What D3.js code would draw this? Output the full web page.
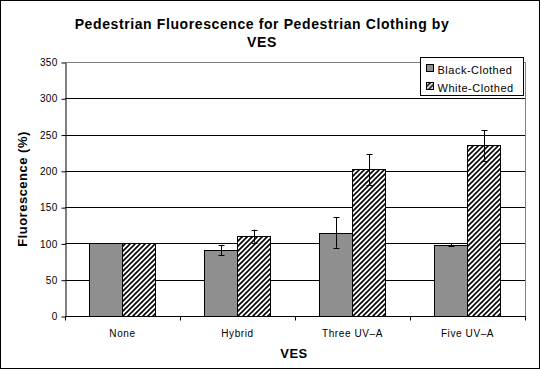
<!DOCTYPE html>
<html>
<head>
<meta charset="utf-8">
<script src="https://cdn.jsdelivr.net/npm/d3@7"></script>
<style>
  body { margin: 0; background: #fff; }
  svg { display: block; font-family: Arial, "Liberation Sans", sans-serif; }
</style>
</head>
<body>
<div id="chart"></div>
<script>
const categories = ['None', 'Hybrid', 'Three UV\u2013A', 'Five UV\u2013A'];
const seriesNames = ['Black-Clothed', 'White-Clothed'];
const blackValues = [100, 91, 115, 98];
const whiteValues = [100, 110, 202, 235];
const blackErrors = [0, 7, 21, 2];
const whiteErrors = [0, 9, 21, 21];
const yTicks = [0, 50, 100, 150, 200, 250, 300, 350];

const width = 540;
const height = 369;
const margin = { top: 62, right: 15, bottom: 53, left: 65 };

const svg = d3.select('#chart')
    .append('svg')
    .attr('width', width)
    .attr('height', height);

// hatch pattern for white-clothed bars
const defs = svg.append('defs');
const pat = defs.append('pattern')
    .attr('id', 'hatch')
    .attr('patternUnits', 'userSpaceOnUse')
    .attr('width', 5)
    .attr('height', 5);
pat.append('rect').attr('width', 5).attr('height', 5).attr('fill', '#fff');
pat.append('path')
    .attr('d', 'M-1,1 l2,-2 M0,5 l5,-5 M4,6 l2,-2')
    .attr('stroke', '#000')
    .attr('stroke-width', 1.6);

const fills = ['#8f8f8f', 'url(#hatch)'];

const x0 = d3.scaleBand()
    .domain(categories)
    .range([margin.left, width - margin.right])
    .paddingInner(0.426)
    .paddingOuter(0.213);

const x1 = d3.scaleBand()
    .domain(seriesNames)
    .range([0, x0.bandwidth()]);

const y = d3.scaleLinear()
    .domain([0, 350])
    .range([height - margin.bottom, margin.top]);

// outer border
svg.append('rect')
    .attr('x', 0.5).attr('y', 0.5)
    .attr('width', width - 1).attr('height', height - 1)
    .attr('fill', 'none').attr('stroke', '#000');

// gridlines
svg.append('g')
    .selectAll('line')
    .data(yTicks.filter(d => d > 0 && d < 350))
    .join('line')
    .attr('x1', margin.left).attr('x2', width - margin.right)
    .attr('y1', d => Math.round(y(d)) + 0.5).attr('y2', d => Math.round(y(d)) + 0.5)
    .attr('stroke', '#000');

// plot area border (gray top and right)
svg.append('path')
    .attr('d', `M${margin.left},${Math.round(y(350)) + 0.5}H${width - margin.right + 0.5}V${Math.round(y(0))}`)
    .attr('fill', 'none')
    .attr('stroke', '#808080');

const rows = categories.map((c, i) => ({
    cat: c,
    vals: [
        { s: seriesNames[0], v: blackValues[i], e: blackErrors[i], k: 0 },
        { s: seriesNames[1], v: whiteValues[i], e: whiteErrors[i], k: 1 }
    ]
}));

const groups = svg.append('g')
    .selectAll('g')
    .data(rows)
    .join('g')
    .attr('transform', d => `translate(${Math.round(x0(d.cat))},0)`);

groups.selectAll('rect')
    .data(d => d.vals)
    .join('rect')
    .attr('x', d => Math.round(x1(d.s)) + 0.5)
    .attr('y', d => Math.round(y(d.v)) + 0.5)
    .attr('width', Math.round(x1.bandwidth()))
    .attr('height', d => Math.round(y(0)) - Math.round(y(d.v)))
    .attr('fill', d => fills[d.k])
    .attr('stroke', '#000')
    .attr('stroke-width', 1);

// error bars
const eb = groups.selectAll('g.err')
    .data(d => d.vals.filter(v => v.e > 0))
    .join('g')
    .attr('class', 'err')
    .attr('stroke', '#000')
    .attr('stroke-width', 1);

const cx = d => Math.round(x1(d.s) + x1.bandwidth() / 2) + 0.5;
eb.append('line')
    .attr('x1', cx).attr('x2', cx)
    .attr('y1', d => y(d.v + d.e)).attr('y2', d => y(d.v - d.e));
eb.append('line')
    .attr('x1', d => cx(d) - 3).attr('x2', d => cx(d) + 3)
    .attr('y1', d => Math.round(y(d.v + d.e)) + 0.5).attr('y2', d => Math.round(y(d.v + d.e)) + 0.5);
eb.append('line')
    .attr('x1', d => cx(d) - 3).attr('x2', d => cx(d) + 3)
    .attr('y1', d => Math.round(y(d.v - d.e)) + 0.5).attr('y2', d => Math.round(y(d.v - d.e)) + 0.5);

// y axis
const yAxis = svg.append('g')
    .attr('transform', `translate(${margin.left + 0.5},0.5)`)
    .call(d3.axisLeft(y).tickValues(yTicks).tickSize(4).tickSizeOuter(0));
yAxis.select('.domain').attr('stroke', '#000');
yAxis.selectAll('.tick line').attr('stroke', '#000');
yAxis.selectAll('.tick text')
    .attr('font-size', 10)
    .attr('font-family', 'Arial, "Liberation Sans", sans-serif')
    .attr('letter-spacing', 0.3)
    .attr('fill', '#000')
    .attr('x', -8);

// x axis with ticks between categories
const baseY = Math.round(y(0)) + 0.5;
svg.append('line')
    .attr('x1', margin.left).attr('x2', width - margin.right + 1)
    .attr('y1', baseY).attr('y2', baseY)
    .attr('stroke', '#000');
const step = x0.step();
const tickXs = d3.range(categories.length + 1).map(i => Math.round(x0(categories[0]) - x0.paddingInner() * step / 2 + i * step) + 0.5);
svg.append('g')
    .selectAll('line')
    .data(tickXs)
    .join('line')
    .attr('x1', d => d).attr('x2', d => d)
    .attr('y1', baseY).attr('y2', baseY + 4)
    .attr('stroke', '#000');

svg.append('g')
    .selectAll('text')
    .data(categories)
    .join('text')
    .attr('x', d => x0(d) + x0.bandwidth() / 2)
    .attr('y', baseY + 20)
    .attr('text-anchor', 'middle')
    .attr('font-size', 10)
    .attr('letter-spacing', 0.6)
    .text(d => d);

// titles
svg.append('text')
    .attr('x', 262).attr('y', 29)
    .attr('text-anchor', 'middle')
    .attr('font-size', 14).attr('font-weight', 'bold')
    .attr('letter-spacing', 0.6)
    .text('Pedestrian Fluorescence for Pedestrian Clothing by');
svg.append('text')
    .attr('x', 262).attr('y', 47)
    .attr('text-anchor', 'middle')
    .attr('font-size', 14).attr('font-weight', 'bold')
    .attr('letter-spacing', 0.6)
    .text('VES');

svg.append('text')
    .attr('x', 294).attr('y', 358)
    .attr('text-anchor', 'middle')
    .attr('font-size', 13).attr('font-weight', 'bold')
    .attr('letter-spacing', 0.5)
    .text('VES');

svg.append('text')
    .attr('transform', 'translate(27,189) rotate(-90)')
    .attr('text-anchor', 'middle')
    .attr('font-size', 13).attr('font-weight', 'bold')
    .attr('letter-spacing', 0.5)
    .text('Fluorescence (%)');

// legend
const legend = svg.append('g').attr('transform', 'translate(420.5,57.5)');
legend.append('rect')
    .attr('width', 103).attr('height', 38)
    .attr('fill', '#fff').attr('stroke', '#000');
seriesNames.forEach((s, i) => {
    legend.append('rect')
        .attr('x', 6).attr('y', 7 + i * 18)
        .attr('width', 7).attr('height', 7)
        .attr('fill', fills[i]).attr('stroke', '#000');
    legend.append('text')
        .attr('x', 17).attr('y', 16 + i * 18)
        .attr('font-size', 11)
        .attr('letter-spacing', 0.5)
        .text(s);
});
</script>
</body>
</html>
